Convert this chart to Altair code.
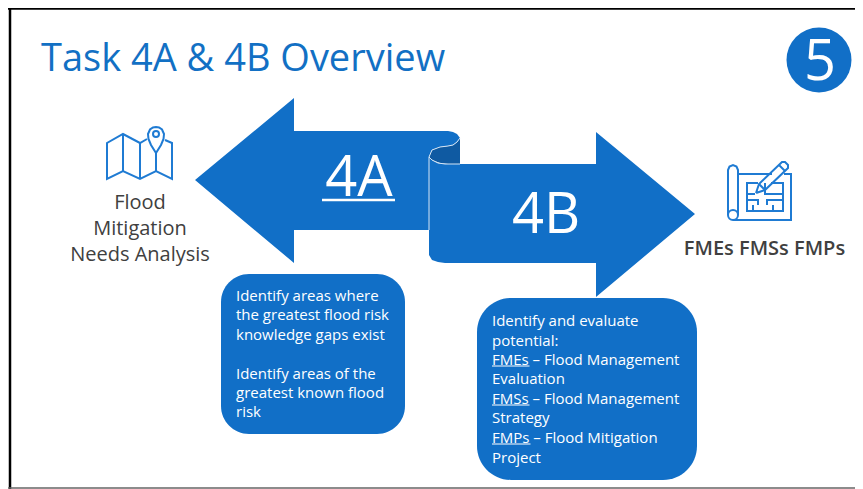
import altair as alt
import pandas as pd

BLUE = "#116FC7"
DARK = "#0F5AA2"
ICON = "#1F7BD3"
GREY = "#404040"
FONT = "Open Sans"

# filled arrows: x, upper edge, lower edge
arrow_left_x = [195, 294, 294, 429, 429, 432, 440, 448, 453, 457, 460]
arrow_left_top = [180, 98, 131, 131, 131, 131, 131, 131, 132, 134, 138]
arrow_left_bot = [180, 263, 230, 230, 157, 150, 147, 146, 145, 142, 138]

fold_x = [429, 432, 440, 448, 453, 457, 460]
fold_top = [157, 150, 147, 146, 145, 142, 138]
fold_bot = [157, 160, 163, 164, 164, 164, 164]

arrow_right_x = [429, 432, 438, 445, 596, 596, 695]
arrow_right_top = [157, 160, 163, 164, 164, 132, 214]
arrow_right_bot = [255, 260, 262, 263, 263, 297, 214]

# thin light edges of the scroll
edge_x = [460, 457, 453, 448, 440, 432, 429, 429, 432, 438, 445, 460]
edge_y = [138, 142, 145, 146, 147, 150, 157, 157, 160, 163, 164, 164]
edge2_x = [429, 429]
edge2_y = [157, 230]

# rounded boxes
box_x = [221, 477]
box_x2 = [405, 697]
box_y = [274, 298]
box_y2 = [434, 480]
box_r = [28, 34]

# slide frame
frame_x = [10, 10]
frame_y = [8, 489]

# map icon
map_paths = [
    [(147, 139), (140, 143), (123, 134), (107, 143), (107, 179), (123, 171), (140, 179), (156, 171), (172, 179), (172, 143), (165, 140)],
    [(123, 134), (123, 171)],
    [(140, 143), (140, 179)],
    [(156, 153), (156, 171)],
    [(156, 153), (151, 145), (148.5, 139), (148, 134), (150, 129.5), (153, 127.5), (156, 127), (159, 127.5), (162, 129.5), (164, 134), (163.5, 139), (161, 145), (156, 153)],
]
# blueprint icon
plan_paths = [
    [(728, 215), (728, 170), (729.5, 166.5), (733, 165), (736.5, 166.5), (738, 170), (738, 215)],
    [(738, 174), (772, 174), ],
    [(784, 174), (791, 174), (791, 220), (733, 220)],
    [(758, 183), (747, 183), (747, 211), (783, 211), (783, 183), (771, 183)],
    [(747, 194), (755, 194)],
    [(747, 200), (758, 200), (758, 205)],
    [(767, 205), (767, 200), (783, 200)],
    [(765, 183), (765, 194), (783, 194)],
    [(753, 211), (753, 205)],
    [(773, 211), (773, 205)],
    [(756, 193), (759, 184), (782, 162), (785, 162), (788, 165), (788, 168), (765, 190), (756, 193)],
    [(759, 184), (765, 190)],
    [(779, 165), (785, 171)],
]
ring_x = [156, 733]
ring_y = [134, 215]
ring_size = [36, 100]

# number badge
badge_x = [819]
badge_y = [60]

# underlines
rule_x = [322, 492, 492, 492]
rule_x2 = [395, 529.5, 529.5, 530.5]
rule_y = [200, 366, 405, 444]
rule_w = [2.5, 1, 1, 1]

# text
t_title = ["Task 4A & 4B Overview"]
t_big = ["4A", "4B", "5"]
t_big_x = [359, 546, 820]
t_big_y = [196, 233, 80]
t_label = ["Flood", "Mitigation", "Needs Analysis"]
t_label_y = [209, 235, 261]
t_box1 = ["Identify areas where", "the greatest flood risk", "knowledge gaps exist",
          "Identify areas of the", "greatest known flood", "risk"]
t_box1_y = [301, 320, 340, 379, 398, 417]
t_box2 = ["Identify and evaluate", "potential:", "FMEs – Flood Management", "Evaluation",
          "FMSs – Flood Management", "Strategy", "FMPs – Flood Mitigation", "Project"]
t_box2_y = [326, 346, 365, 384, 404, 423, 443, 463]

W, H = 847, 481
sx = alt.Scale(domain=[8, 855], nice=False, zero=False)
sy = alt.Scale(domain=[489, 8], nice=False, zero=False)
X = lambda f="x": alt.X(f"{f}:Q", scale=sx, axis=None)
Y = lambda f="y": alt.Y(f"{f}:Q", scale=sy, axis=None, stack=None)


def area(xs, top, bot, color):
    d = pd.DataFrame({"x": xs, "y": top, "y2": bot})
    return alt.Chart(d).mark_area(color=color, opacity=1, orient="vertical", interpolate="linear").encode(
        x=X(), y=Y(), y2=alt.Y2("y2:Q"))


def lines(paths, color, width):
    rows = [{"x": p[0], "y": p[1], "g": g, "i": i} for g, path in enumerate(paths) for i, p in enumerate(path)]
    return alt.Chart(pd.DataFrame(rows)).mark_line(color=color, strokeWidth=width, interpolate="linear").encode(
        x=X(), y=Y(), detail="g:N", order="i:Q")


def text(labels, xs, ys, size, color=GREY, align="left", weight="normal"):
    d = pd.DataFrame({"x": xs, "y": ys, "t": labels})
    return alt.Chart(d).mark_text(font=FONT, fontSize=size, color=color, align=align, baseline="alphabetic",
                                  fontWeight=weight).encode(x=X(), y=Y(), text="t:N")


edge_paths = [list(zip(edge_x[:7], edge_y[:7])), list(zip(edge_x[7:], edge_y[7:])), list(zip(edge2_x, edge2_y))]
frame_paths = [list(zip(frame_x, frame_y))]

boxes = alt.Chart(pd.DataFrame({"x": box_x, "x2": box_x2, "y": box_y, "y2": box_y2, "r": box_r}))
box_a = boxes.transform_filter("datum.r < 30").mark_rect(color=BLUE, cornerRadius=box_r[0]).encode(x=X(), x2="x2:Q", y=Y(), y2="y2:Q")
box_b = boxes.transform_filter("datum.r > 30").mark_rect(color=BLUE, cornerRadius=box_r[1]).encode(x=X(), x2="x2:Q", y=Y(), y2="y2:Q")

badge = alt.Chart(pd.DataFrame({"x": badge_x, "y": badge_y})).mark_point(
    filled=True, color=BLUE, opacity=1, shape="circle", size=4225).encode(x=X(), y=Y())
rings = alt.Chart(pd.DataFrame({"x": ring_x, "y": ring_y, "s": ring_size})).mark_point(
    filled=False, color=ICON, opacity=1, strokeWidth=2, shape="circle").encode(
    x=X(), y=Y(), size=alt.Size("s:Q", scale=None, legend=None))
rules = alt.Chart(pd.DataFrame({"x": rule_x, "x2": rule_x2, "y": rule_y, "w": rule_w})).mark_rule(color="white").encode(
    x=X(), x2="x2:Q", y=Y(), strokeWidth=alt.StrokeWidth("w:Q", scale=None, legend=None))

layers = [
    lines(frame_paths, "black", 2.5),
    lines([[(8, 8.5), (855, 8.5)]], "black", 2.5),
    lines([[(8, 488), (855, 488)]], "#666666", 1.5),
    area(arrow_left_x, arrow_left_top, arrow_left_bot, BLUE),
    area(fold_x, fold_top, fold_bot, DARK),
    area(arrow_right_x, arrow_right_top, arrow_right_bot, BLUE),
    lines(edge_paths, "#D5E5F5", 1),
    box_a, box_b, badge,
    lines(map_paths, ICON, 2),
    lines(plan_paths, ICON, 2),
    rings,
    rules,
    text(t_title, [41], [71], 38, color="#1270C4"),
    text(t_big, t_big_x, t_big_y, 56, color="white", align="center"),
    text(t_label, [140] * 3, t_label_y, 20, align="center"),
    text(["FMEs FMSs FMPs"], [764.5], [255], 20, align="center", weight=600),
    text(t_box1, [236] * 6, t_box1_y, 15, color="white"),
    text(t_box2, [492] * 8, t_box2_y, 15, color="white"),
]

chart = alt.layer(*layers).properties(
    width=W, height=H, padding=0, background="white",
    autosize=alt.AutoSizeParams(type="none", contains="content"),
).configure_view(stroke=None)
chart.save("out.html", embed_options={"renderer": "svg", "actions": False})
